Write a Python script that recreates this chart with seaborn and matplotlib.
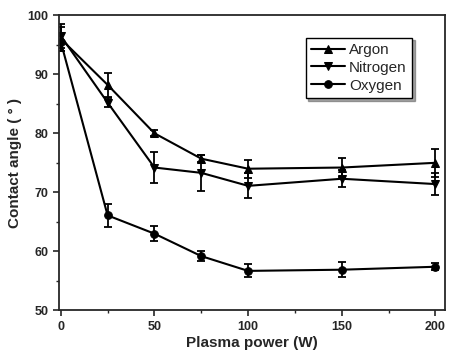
import matplotlib
matplotlib.use("Agg")
import matplotlib.pyplot as plt
import pandas as pd
import seaborn as sns
from matplotlib.ticker import MultipleLocator

# values
power = [0, 25, 50, 75, 100, 150, 200]
argon = [96.0, 88.2, 80.0, 75.7, 74.0, 74.2, 75.0]
argon_err = [2.0, 2.0, 0.5, 0.6, 1.5, 1.6, 2.4]
nitrogen = [96.5, 85.2, 74.2, 73.3, 71.1, 72.3, 71.4]
nitrogen_err = [2.0, 0.7, 2.7, 3.0, 2.1, 1.4, 1.9]
oxygen = [95.5, 66.1, 63.0, 59.2, 56.7, 56.9, 57.4]
oxygen_err = [1.5, 1.9, 1.3, 0.8, 1.1, 1.3, 0.6]

gases = ["Argon", "Nitrogen", "Oxygen"]
markers = {"Argon": "^", "Nitrogen": "v", "Oxygen": "o"}

rows = []
for gas, vals, errs in [("Argon", argon, argon_err),
                        ("Nitrogen", nitrogen, nitrogen_err),
                        ("Oxygen", oxygen, oxygen_err)]:
    for p, v, e in zip(power, vals, errs):
        rows.append({"power": p, "angle": v, "err": e, "gas": gas})
df = pd.DataFrame(rows)

sns.set_style("ticks")
plt.rcParams['font.family'] = ['Liberation Sans', 'DejaVu Sans']

fig, ax = plt.subplots(figsize=(4.53, 3.61), dpi=100)

sns.lineplot(data=df, x="power", y="angle", hue="gas", style="gas",
             markers=markers, dashes=False, palette=["black"] * 3,
             markersize=5.5, linewidth=1.5, markeredgecolor="black", ax=ax)

for gas in gases:
    d = df[df["gas"] == gas]
    ax.errorbar(d["power"], d["angle"], yerr=d["err"], fmt="none",
                ecolor="black", elinewidth=1.3, capsize=3, capthick=1.3)

ax.set_xlim(-1, 205)
ax.set_ylim(50, 100)
ax.xaxis.set_major_locator(MultipleLocator(50))
ax.xaxis.set_minor_locator(MultipleLocator(25))
ax.yaxis.set_major_locator(MultipleLocator(10))
ax.yaxis.set_minor_locator(MultipleLocator(5))
ax.tick_params(which="major", length=4, width=1.2, labelsize=9)
ax.tick_params(which="minor", length=2.5, width=1.0)
for lab in ax.get_xticklabels() + ax.get_yticklabels():
    lab.set_fontweight("bold")
for sp in ax.spines.values():
    sp.set_linewidth(1.3)
    sp.set_visible(True)

ax.set_xlabel("Plasma power (W)", fontsize=11, fontweight="bold", labelpad=2)
ax.set_ylabel("Contact angle ( ° )", fontsize=11, fontweight="bold", labelpad=4)

leg = ax.legend(loc="upper right", bbox_to_anchor=(0.935, 0.95), frameon=True,
                fancybox=False, shadow=True, fontsize=11, handlelength=2.2,
                handletextpad=0.3, borderpad=0.35, labelspacing=0.25)
leg.get_frame().set_edgecolor("black")
leg.get_frame().set_linewidth(1.0)

fig.subplots_adjust(left=0.13, right=0.982, top=0.958, bottom=0.14)
fig.savefig("out.png", dpi=100)
